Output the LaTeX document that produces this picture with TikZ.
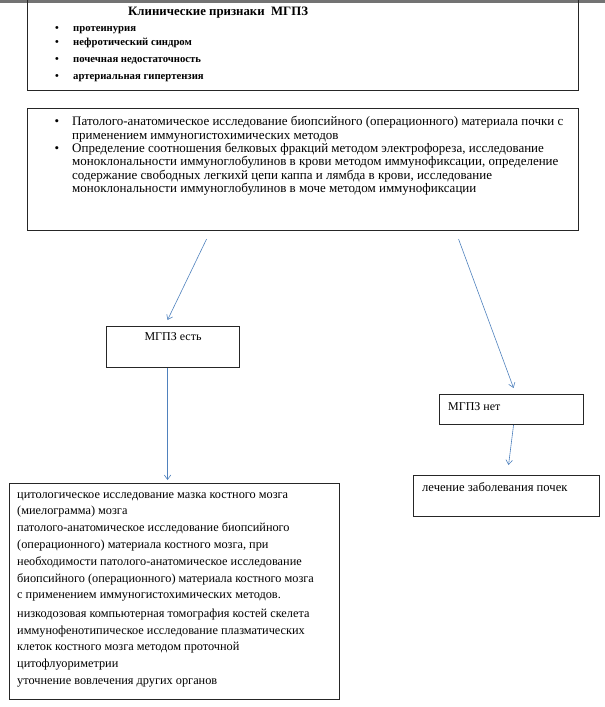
\documentclass[tikz,border=0pt]{standalone}
\usepackage{fontspec}
\setmainfont{Liberation Serif}
\usetikzlibrary{arrows.meta}
\usetikzlibrary{positioning}
\definecolor{arrowblue}{RGB}{79,129,189}
\tikzset{
    box/.style={
           rectangle,
           draw=black!85, line width=1.1pt,
           anchor=north west,
           inner sep=0pt,
           },
}
\tikzset{
    txt/.style={
           inner sep=0pt,
           align=left,
           anchor=north west,
           },
}
\tikzset{
    item/.style={
           inner sep=0pt,
           anchor=base west,
           font=\fontsize{10.7}{12}\selectfont\bfseries,
           },
}
\tikzset{
    lbl/.style={
           inner sep=0pt,
           font=\fontsize{12}{14}\selectfont,
           },
}
\tikzset{
    arr/.style={
           draw=arrowblue, line width=0.6pt,
           -{Straight Barb[length=4.5pt,width=6.5pt]},
           },
}

\begin{document}
\begin{tikzpicture}[x=1pt,y=-1pt]
\useasboundingbox (0,0) rectangle (605,707);
\fill[black!55] (0,0) rectangle (605,2.5);
% clinical signs
\node[box, minimum width=551pt, minimum height=93pt](signs) at (27,-3){};
\node[inner sep=0pt, anchor=base west, font=\fontsize{12.8}{15}\selectfont\bfseries](title) at (128,15.5){Клинические признаки\ \ МГПЗ};
\node[item](s1) at (55,31.4){\makebox[18pt][l]{•}протеинурия};
\node[item](s2) at (55,45.4){\makebox[18pt][l]{•}нефротический синдром};
\node[item](s3) at (55,62.4){\makebox[18pt][l]{•}почечная недостаточность};
\node[item](s4) at (55,79.4){\makebox[18pt][l]{•}артериальная гипертензия};
% tests
\node[box, minimum width=551pt, minimum height=122pt](tests) at (27,108){};
\node[txt, font=\fontsize{13}{13.4}\selectfont](testtext) at (72,116.1){\strut Патолого-анатомическое исследование биопсийного (операционного) материала почки с\\
применением иммуногистохимических методов\\
Определение соотношения белковых фракций методом электрофореза, исследование\\
моноклональности иммуноглобулинов в крови методом иммунофиксации, определение\\
содержание свободных легкихй цепи каппа и лямбда в крови, исследование\\
моноклональности иммуноглобулинов в моче методом иммунофиксации};
\node[inner sep=0pt, anchor=base, font=\fontsize{13}{14}\selectfont](b1) at (57,125.5){•};
\node[inner sep=0pt, anchor=base, font=\fontsize{13}{14}\selectfont](b2) at (57,152.3){•};
% result boxes
\node[box, minimum width=133pt, minimum height=41pt](yes) at (106,326){};
\node[lbl, below=6pt of yes.north](yeslbl){МГПЗ есть};
\node[box, minimum width=144pt, minimum height=30pt](no) at (439,394){};
\node[lbl, below right=8pt and 9pt of no.north west](nolbl){МГПЗ нет};
\node[box, minimum width=186pt, minimum height=41pt](kidney) at (413,475){};
\node[lbl, font=\fontsize{12.6}{14}\selectfont, below right=7pt and 9pt of kidney.north west](kidneylbl){лечение заболевания почек};
\node[box, minimum width=330pt, minimum height=216pt](bone) at (9,483){};
\node[txt, font=\fontsize{12.3}{16.8}\selectfont](bonetext) at (17,486.2){\strut цитологическое исследование мазка костного мозга\\
(миелограмма) мозга\\
патолого-анатомическое исследование биопсийного\\
(операционного) материала костного мозга, при\\
необходимости патолого-анатомическое исследование\\
биопсийного (операционного) материала костного мозга\\
с применением иммуногистохимических методов.\\[1.5pt]
низкодозовая компьютерная томография костей скелета\\
иммунофенотипическое исследование плазматических\\
клеток костного мозга методом проточной\\
цитофлуориметрии\\
уточнение вовлечения других органов};
% arrows
\draw[arr] ([shift={(-96.5,8)}]tests.south) -- ([shift={(-5.5,-6)}]yes.north);
\draw[arr] ([shift={(155.5,8)}]tests.south) -- ([shift={(2,-6)}]no.north);
\draw[arr] ([xshift=-5.5pt]yes.south) -- ([shift={(-7,-3)}]bone.north);
\draw[arr] ([xshift=2pt]no.south) -- ([shift={(2,-10)}]kidney.north);
\end{tikzpicture}
\end{document}
